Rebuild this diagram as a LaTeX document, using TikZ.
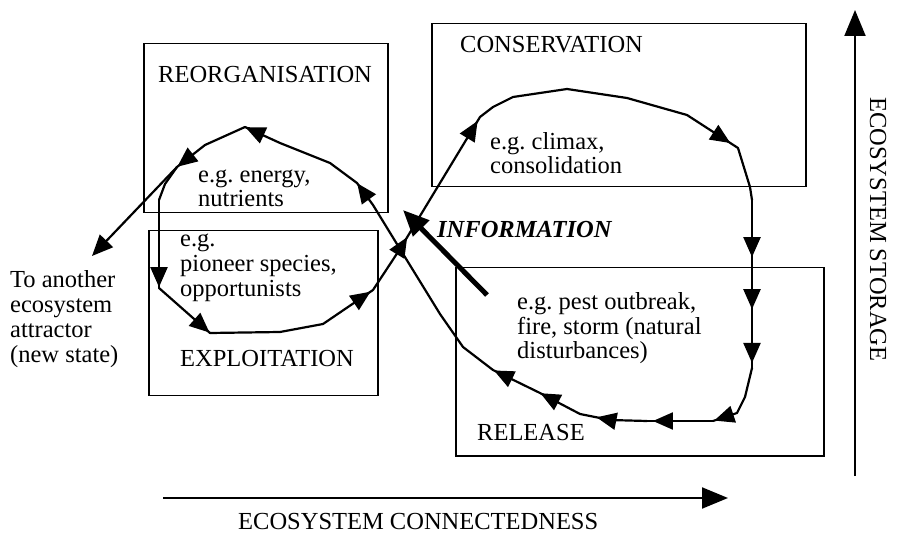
\documentclass[tikz,border=0pt]{standalone}
\usepackage{fontspec}
\setmainfont{Liberation Serif}
\usetikzlibrary{arrows.meta,decorations.markings}
\newcommand\mlines[1]{\begin{tabular}[t]{@{}l@{}}#1\end{tabular}}
\frenchspacing
\begin{document}
\frenchspacing
\begin{tikzpicture}[x=1pt,y=-1pt,
  box/.style={draw, line width=1.5pt, inner sep=0pt, anchor=north west},
  lbl/.style={anchor=base west, inner sep=0pt, font=\fontsize{24.5}{25}\selectfont},
  flow/.style={line width=2.2pt, line join=round, line cap=round},
  tipat/.style={postaction={decorate, decoration={markings, mark=at position #1 with {\arrow{Triangle[length=20pt,width=17pt]}}}}},
  axis/.style={line width=2pt, -{Triangle[length=26pt,width=21pt]}}
]
\useasboundingbox (0,0) rectangle (897,534);

% boxes
\node[box, minimum width=244pt, minimum height=169pt] (reorgbox) at (143,43) {};
\node[box, minimum width=229pt, minimum height=165pt] (exploitbox) at (148,230) {};
\node[box, minimum width=374pt, minimum height=163pt] (consbox) at (431,23) {};
\node[box, minimum width=368pt, minimum height=188pt] (relbox) at (455,267) {};

% labels
\node[lbl] (reorg) at (158,83) {REORGANISATION};
\node[lbl, font=\fontsize{24.5}{24}\selectfont] (energy) at (198,183) {\mlines{e.g. energy,\\nutrients}};
\node[lbl] (pioneer) at (180,247) {\mlines{e.g.\\pioneer species,\\opportunists}};
\node[lbl] (exploit) at (180,367) {EXPLOITATION};
\node[lbl] (another) at (10,288) {\mlines{To another\\ecosystem\\attractor\\(new state)}};
\node[lbl] (cons) at (460,53) {CONSERVATION};
\node[lbl, font=\fontsize{24.5}{22.5}\selectfont] (climax) at (490,150) {\mlines{e.g. climax,\\consolidation}};
\node[lbl, font=\fontsize{24.5}{23.5}\selectfont] (pest) at (517,310) {\mlines{e.g. pest outbreak,\\fire, storm (natural\\disturbances)}};
\node[lbl] (release) at (477,441) {RELEASE};
\node[lbl, font=\fontsize{24.5}{25}\selectfont\bfseries\itshape] (info) at (437,238) {INFORMATION};
\node[lbl] (connect) at (238,529) {ECOSYSTEM CONNECTEDNESS};
\node[lbl, rotate=-90] (storage) at (870,97) {ECOSYSTEM STORAGE};

% loop coordinates
\coordinate (L1) at (177,167);
\coordinate (L2) at (165,184);
\coordinate (L3) at (159,200);
\coordinate (L4) at (159,288);
\coordinate (L5) at (210,333);
\coordinate (L6) at (280,332);
\coordinate (L7) at (323,324);
\coordinate (L8) at (373,290);
\coordinate (X) at (400,249);
\coordinate (B2) at (480,117);
\coordinate (B3) at (493,107);
\coordinate (B4) at (513,97);
\coordinate (B5) at (567,89);
\coordinate (B6) at (627,98);
\coordinate (B7) at (687,115);
\coordinate (B8) at (738,148);
\coordinate (B9) at (750,187);
\coordinate (B10) at (752,200);
\coordinate (B11) at (752,368);
\coordinate (B12) at (745,397);
\coordinate (B13) at (737,413);
\coordinate (B14) at (713,421);
\coordinate (B15) at (647,421);
\coordinate (B16) at (610,420);
\coordinate (B17) at (580,414);
\coordinate (B18) at (540,393);
\coordinate (B19) at (493,370);
\coordinate (B20) at (463,347);
\coordinate (B21) at (440,314);
\coordinate (A1) at (373,205);
\coordinate (A2) at (357,183);
\coordinate (A3) at (330,163);
\coordinate (A4) at (280,143);
\coordinate (A5) at (245,127);
\coordinate (A6) at (205,145);
\coordinate (E) at (92,256);
\coordinate (I0) at (487,295);
\coordinate (I1) at (403,210);
\coordinate (H0) at (163,498);
\coordinate (H1) at (728,498);
\coordinate (V0) at (855,476);
\coordinate (V1) at (855,10);

% loop
\draw[flow] (L1) -- (L2) -- (L3);
\draw[flow, tipat=0.99] (L3) -- (L4);
\draw[flow, tipat=0.99] (L4) -- (L5);
\draw[flow] (L5) -- (L6) -- (L7);
\draw[flow, tipat=0.95] (L7) -- (L8);
\draw[flow] (L8) -- (X);
\draw[flow, tipat=0.09, tipat=0.97] (X) -- (B2);
\draw[flow] (B2) -- (B3) -- (B4) -- (B5) -- (B6) -- (B7);
\draw[flow, tipat=0.85] (B7) -- (B8);
\draw[flow] (B8) -- (B9) -- (B10);
\draw[flow, tipat=0.34, tipat=0.65, tipat=0.97] (B10) -- (B11);
\draw[flow] (B11) -- (B12) -- (B13);
\draw[flow, tipat=0.95] (B13) -- (B14);
\draw[flow, tipat=0.91] (B14) -- (B15);
\draw[flow] (B15) -- (B16);
\draw[flow, tipat=0.45] (B16) -- (B17);
\draw[flow, tipat=0.99] (B17) -- (B18);
\draw[flow, tipat=0.98] (B18) -- (B19);
\draw[flow] (B19) -- (B20) -- (B21) -- (X);
\draw[flow] (X) -- (A1);
\draw[flow, tipat=0.99] (A1) -- (A2);
\draw[flow] (A2) -- (A3) -- (A4);
\draw[flow, tipat=0.99] (A4) -- (A5);
\draw[flow] (A5) -- (A6);
\draw[flow, tipat=0.99] (A6) -- (L1);
\draw[flow, -{Triangle[length=21pt,width=18pt]}] (L1) -- (E);

% information arrow
\draw[line width=5pt, -{Triangle[length=26pt,width=22pt]}] (I0) -- (I1);

% axes
\draw[axis] (H0) -- (H1);
\draw[axis] (V0) -- (V1);
\end{tikzpicture}
\end{document}
